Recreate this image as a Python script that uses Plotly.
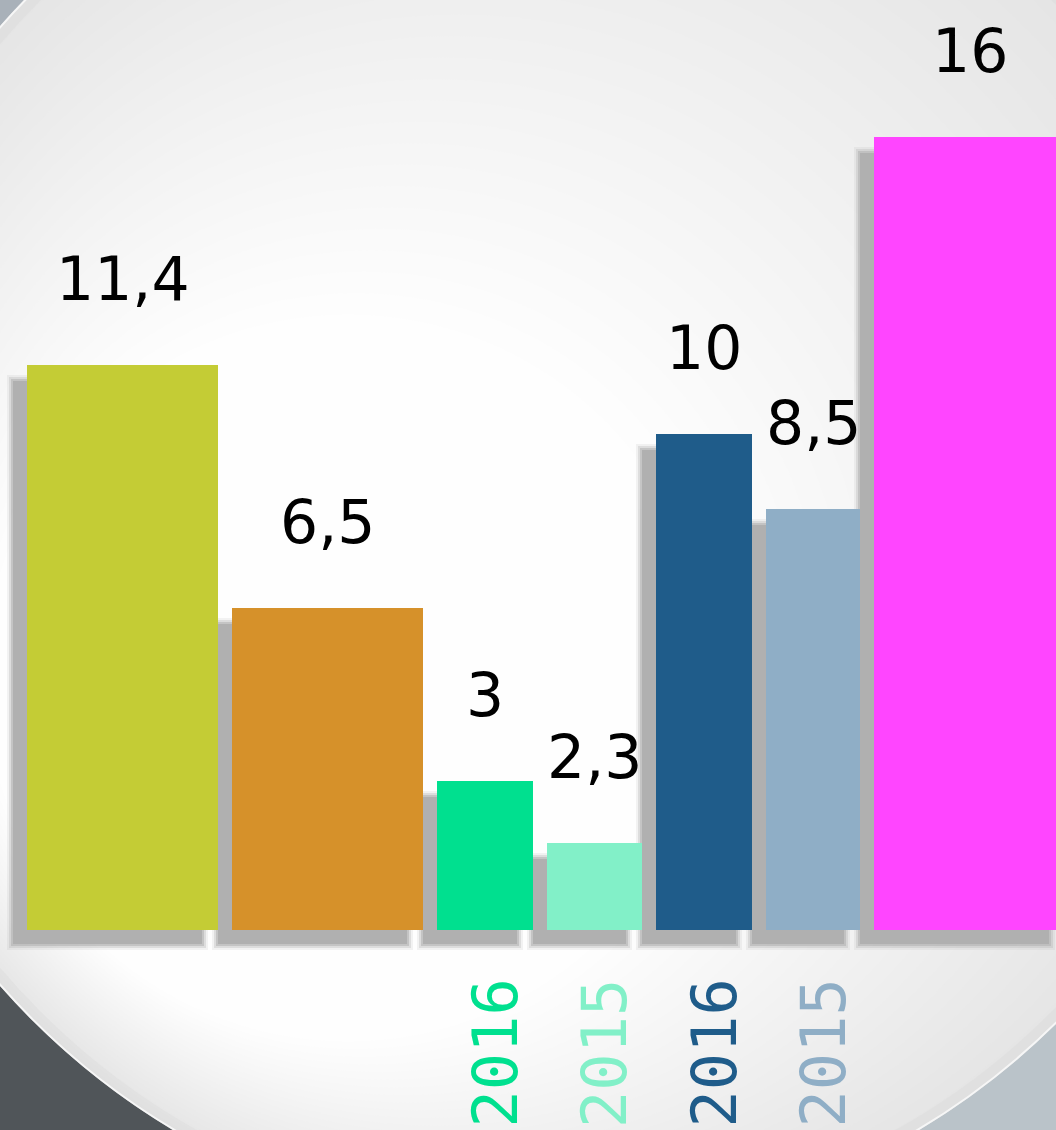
import plotly.graph_objects as go

# ---------------- data ----------------
values = [11.4, 6.5, 3, 1.75, 10, 8.5, 16]          # bar heights as drawn
value_labels = ["11,4", "6,5", "3", "2,3", "10", "8,5", "16"]
year_labels = ["", "", "2016", "2015", "2016", "2015", ""]
bar_colors = ["#C4CC35", "#D6912A", "#00E08F", "#82F0C8", "#1F5C8A", "#8FAEC6", "#FF45FF"]

# ---------------- layout helpers (pixel based) ----------------
W, H = 1056, 1130
BASE_PX = 930          # pixel row of value 0
PPU = 49.56            # pixels per unit
bar_w = [191, 191, 96, 95, 96, 94, 191]
GAP = 14
START = 27
centers = []
xpos = START
for w in bar_w:
    centers.append(xpos + w / 2)
    xpos += w + GAP

ymin = -(H - BASE_PX) / PPU
ymax = BASE_PX / PPU

fig = go.Figure()

# shadows (blurred by layering)
SDX, SDY = -15, 15
for e, op in [(5, 0.15), (3, 0.3), (1, 0.55), (-1, 1.0)]:
    fig.add_trace(go.Bar(
        x=[c + SDX for c in centers],
        y=[v + 2 * e / PPU for v in values],
        base=[-(SDY + e) / PPU] * len(values),
        width=[w + 2 * e for w in bar_w],
        marker=dict(color="#B0B0B0", line=dict(width=0)),
        opacity=op, hoverinfo="skip", showlegend=False,
    ))

# bars
fig.add_trace(go.Bar(
    x=centers, y=values, width=bar_w,
    marker=dict(color=bar_colors, line=dict(width=0)),
    showlegend=False,
))

annotations = []
for c, v, lab in zip(centers, values, value_labels):
    annotations.append(dict(
        x=c, y=v, xref="x", yref="y", text=lab, showarrow=False,
        yanchor="bottom", xanchor="center", yshift=49,
        font=dict(family="DejaVu Sans", size=60, color="#000000"),
    ))
for c, lab, col in zip(centers, year_labels, bar_colors):
    if lab:
        annotations.append(dict(
            x=c, y=1 - 977 / H, xref="x", yref="paper", text=lab, showarrow=False,
            textangle=-90, yanchor="top", xanchor="center", xshift=10,
            font=dict(family="DejaVu Sans Mono", size=62, color=col),
        ))

# background shapes
def px(x):
    return x / W

def py(y):
    return 1 - y / H

shapes = []
# dark bottom-left region
shapes.append(dict(type="path", xref="paper", yref="paper", layer="below",
                   path=f"M {px(0)} {py(450)} L {px(0)} {py(1130)} L {px(560)} {py(1130)} Z",
                   fillcolor="#505559", line=dict(width=0)))
# top-left corner
shapes.append(dict(type="path", xref="paper", yref="paper", layer="below",
                   path=f"M {px(0)} {py(0)} L {px(70)} {py(0)} L {px(0)} {py(70)} Z",
                   fillcolor="#505559", line=dict(width=0)))
shapes.append(dict(type="path", xref="paper", yref="paper", layer="below",
                   path=f"M {px(0)} {py(0)} L {px(40)} {py(0)} L {px(0)} {py(26)} Z",
                   fillcolor="#A9B1B9", line=dict(width=0)))

CX, CY, R = 546, 506, 727
FX, FY = 150, 850
N = 50
for i in range(N):
    t = i / N
    cx = CX + t * (FX - CX)
    cy = CY + t * (FY - CY)
    r = R * (1 - t)
    g = int(round(229 + (254 - 229) * min(1.0, t / 0.5)))
    col = f"rgb({g},{g},{g})"
    shapes.append(dict(type="circle", xref="paper", yref="paper", layer="below",
                       x0=px(cx - r), x1=px(cx + r), y0=py(cy + r), y1=py(cy - r),
                       fillcolor=col, line=dict(width=0)))
# rim bevel
shapes.append(dict(type="circle", xref="paper", yref="paper", layer="below",
                   x0=px(CX - R + 6), x1=px(CX + R - 6), y0=py(CY + R - 6), y1=py(CY - R + 6),
                   fillcolor="rgba(0,0,0,0)", line=dict(width=12, color="rgba(210,210,210,0.25)")))
shapes.append(dict(type="circle", xref="paper", yref="paper", layer="below",
                   x0=px(CX - R + 1), x1=px(CX + R - 1), y0=py(CY + R - 1), y1=py(CY - R + 1),
                   fillcolor="rgba(0,0,0,0)", line=dict(width=2, color="rgba(255,255,255,0.7)")))

fig.update_layout(
    width=W, height=H, autosize=False,
    margin=dict(l=0, r=0, t=0, b=0, pad=0),
    paper_bgcolor="#BAC3C9", plot_bgcolor="rgba(0,0,0,0)",
    barmode="overlay", bargap=0,
    xaxis=dict(range=[0, W], visible=False, fixedrange=True),
    yaxis=dict(range=[ymin, ymax], visible=False, fixedrange=True),
    annotations=annotations, shapes=shapes,
    showlegend=False,
)

fig.write_html("out.html")
